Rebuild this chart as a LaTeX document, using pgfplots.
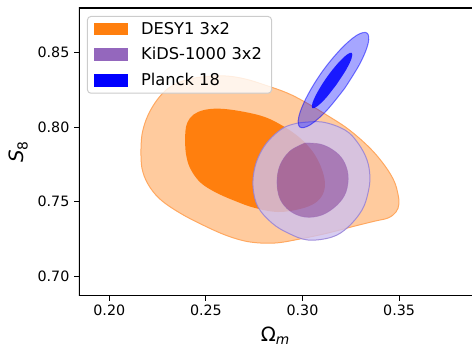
\documentclass[border=0pt]{standalone}
\usepackage{pgfplots}
\pgfplotsset{compat=1.18}
\usepackage{fontspec}
\setmainfont{DejaVu Sans}
\definecolor{desyout}{RGB}{255,203,158}
\definecolor{desyedge}{RGB}{255,168,96}
\definecolor{desyin}{RGB}{255,127,14}
\definecolor{kidsout}{RGB}{205,192,238}
\definecolor{kidsedge}{RGB}{150,130,215}
\definecolor{kidsin}{RGB}{148,103,189}
\definecolor{planck}{RGB}{0,0,255}
\definecolor{legframe}{RGB}{204,204,204}
\begin{document}
\begin{tikzpicture}
\begin{axis}[name=ax, scale only axis, width=294.75pt, height=215.8pt,
  xmin=0.18432, xmax=0.38774, ymin=0.68691, ymax=0.8800,
  xtick={0.20,0.25,0.30,0.35}, ytick={0.70,0.75,0.80,0.85},
  /pgf/number format/fixed, /pgf/number format/fixed zerofill, /pgf/number format/precision=2, /pgf/number format/assume math mode=true,
  xtick pos=left, ytick pos=left, tick align=outside,
  major tick length=3.7pt, tick style={black, line width=0.85pt},
  axis line style={draw=none},
  tick label style={font=\fontsize{10.7}{12}\selectfont},
  xlabel={Ω\textsubscript{\itshape m}},
  ylabel={\itshape S\textsubscript{\upshape 8}},
  every axis x label/.style={at={(axis description cs:0.5,-0.159)}, anchor=base, font=\fontsize{14.8}{17}\selectfont},
  every axis y label/.style={at={(axis description cs:-0.154,0.5)}, rotate=90, anchor=center, font=\fontsize{14.8}{17}\selectfont},
  legend style={at={(0,1)}, anchor=north west, xshift=6pt, yshift=-6pt, draw=legframe, line width=0.75pt, rounded corners=2.5pt, fill=white, fill opacity=0.8, draw opacity=1, text opacity=1, inner xsep=4.7pt, inner ysep=1.6pt, row sep=3.6pt, column sep=7.5pt, font=\fontsize{12.2}{14}\selectfont, nodes={inner sep=2.5pt}, cells={anchor=west}},
  legend image code/.code={\fill[#1, sharp corners, fill opacity=1] (0pt,-4.7pt) rectangle (25.5pt,4.7pt);},
  smooth, tension=0.6,
]
\addlegendimage{fill=desyin, draw=none}
\addlegendentry{DESY1 3x2}
\addlegendimage{fill=kidsin, draw=none}
\addlegendentry{KiDS-1000 3x2}
\addlegendimage{fill=planck, draw=none}
\addlegendentry{Planck 18}

% DESY1 3x2 95%
\addplot[fill=desyout, draw=desyedge, line width=0.75pt, forget plot] coordinates {
(0.2164,0.7847) (0.2169,0.7948) (0.2190,0.8048) (0.2226,0.8142) (0.2273,0.8223) (0.2325,0.8277) (0.2397,0.8317) (0.2480,0.8337) (0.2599,0.8344) (0.2702,0.8324) (0.2806,0.8283) (0.2920,0.8230) (0.3013,0.8169) (0.3116,0.8089) (0.3236,0.7988) (0.3349,0.7860) (0.3427,0.7740) (0.3474,0.7639) (0.3494,0.7552) (0.3499,0.7485) (0.3484,0.7431) (0.3443,0.7391) (0.3375,0.7370) (0.3272,0.7337) (0.3132,0.7290) (0.2987,0.7250) (0.2858,0.7223) (0.2728,0.7230) (0.2614,0.7270) (0.2495,0.7337) (0.2366,0.7424) (0.2262,0.7518) (0.2200,0.7619) (0.2169,0.7726) (0.2164,0.7847)
};
% DESY1 3x2 68%
\addplot[fill=desyin, draw=none, forget plot] coordinates {
(0.2392,0.7914) (0.2397,0.8001) (0.2418,0.8062) (0.2459,0.8102) (0.2521,0.8122) (0.2599,0.8122) (0.2702,0.8102) (0.2806,0.8068) (0.2899,0.8008) (0.2987,0.7928) (0.3054,0.7834) (0.3096,0.7733) (0.3116,0.7632) (0.3106,0.7552) (0.3065,0.7491) (0.2987,0.7451) (0.2873,0.7431) (0.2754,0.7458) (0.2651,0.7505) (0.2547,0.7565) (0.2469,0.7632) (0.2418,0.7726) (0.2397,0.7820) (0.2392,0.7914)
};
% KiDS-1000 3x2 95% ring
\addplot[fill=kidsout, fill opacity=0.8, draw=none, even odd rule, unbounded coords=jump, forget plot] coordinates {
(0.2977,0.8028) (0.3101,0.8035) (0.3220,0.7981) (0.3287,0.7894) (0.3334,0.7780) (0.3349,0.7666) (0.3339,0.7558) (0.3308,0.7444) (0.3236,0.7330) (0.3153,0.7263) (0.3028,0.7243) (0.2925,0.7290) (0.2842,0.7357) (0.2770,0.7464) (0.2744,0.7599) (0.2754,0.7733) (0.2790,0.7847) (0.2842,0.7934) (0.2909,0.8001) (0.2977,0.8028)
(nan,nan)
(0.3013,0.7894) (0.3091,0.7887) (0.3158,0.7847) (0.3210,0.7780) (0.3236,0.7679) (0.3225,0.7565) (0.3179,0.7478) (0.3101,0.7411) (0.3013,0.7397) (0.2935,0.7438) (0.2884,0.7518) (0.2868,0.7632) (0.2884,0.7746) (0.2935,0.7840) (0.3013,0.7894)
};
% KiDS-1000 3x2 68%
\addplot[fill=kidsin, fill opacity=0.8, draw=kidsin, draw opacity=0.5, line width=0.5pt, forget plot] coordinates {
(0.3013,0.7894) (0.3091,0.7887) (0.3158,0.7847) (0.3210,0.7780) (0.3236,0.7679) (0.3225,0.7565) (0.3179,0.7478) (0.3101,0.7411) (0.3013,0.7397) (0.2935,0.7438) (0.2884,0.7518) (0.2868,0.7632) (0.2884,0.7746) (0.2935,0.7840) (0.3013,0.7894)
};
% KiDS outer edge
\addplot[draw=kidsedge, draw opacity=0.85, line width=0.75pt, forget plot] coordinates {
(0.2977,0.8028) (0.3101,0.8035) (0.3220,0.7981) (0.3287,0.7894) (0.3334,0.7780) (0.3349,0.7666) (0.3339,0.7558) (0.3308,0.7444) (0.3236,0.7330) (0.3153,0.7263) (0.3028,0.7243) (0.2925,0.7290) (0.2842,0.7357) (0.2770,0.7464) (0.2744,0.7599) (0.2754,0.7733) (0.2790,0.7847) (0.2842,0.7934) (0.2909,0.8001) (0.2977,0.8028)
};
% Planck 18 95%
\addplot[fill=planck, fill opacity=0.35, draw=planck, draw opacity=0.5, line width=0.75pt, forget plot] coordinates {
(0.3219,0.8262) (0.3125,0.8112) (0.3040,0.8016) (0.2987,0.8001) (0.2981,0.8071) (0.3023,0.8206) (0.3101,0.8371) (0.3196,0.8521) (0.3281,0.8617) (0.3334,0.8632) (0.3340,0.8563) (0.3298,0.8428) (0.3219,0.8262)
};
% Planck 18 68%
\addplot[fill=planck, fill opacity=0.85, draw=none, forget plot] coordinates {
(0.3178,0.8290) (0.3124,0.8200) (0.3077,0.8141) (0.3051,0.8128) (0.3052,0.8164) (0.3080,0.8241) (0.3127,0.8337) (0.3182,0.8427) (0.3229,0.8486) (0.3255,0.8499) (0.3254,0.8462) (0.3226,0.8386) (0.3178,0.8290)
};
\draw[line width=0.85pt, sharp corners] (rel axis cs:1,1) -- (rel axis cs:0,1) -- (rel axis cs:0,0) -- (rel axis cs:1,0);
\end{axis}
\pgfresetboundingbox
\path ([shift={(-59.25pt,-38.5pt)}]ax.south west) rectangle ([shift={(0pt,6pt)}]ax.north east);
\end{tikzpicture}
\end{document}
